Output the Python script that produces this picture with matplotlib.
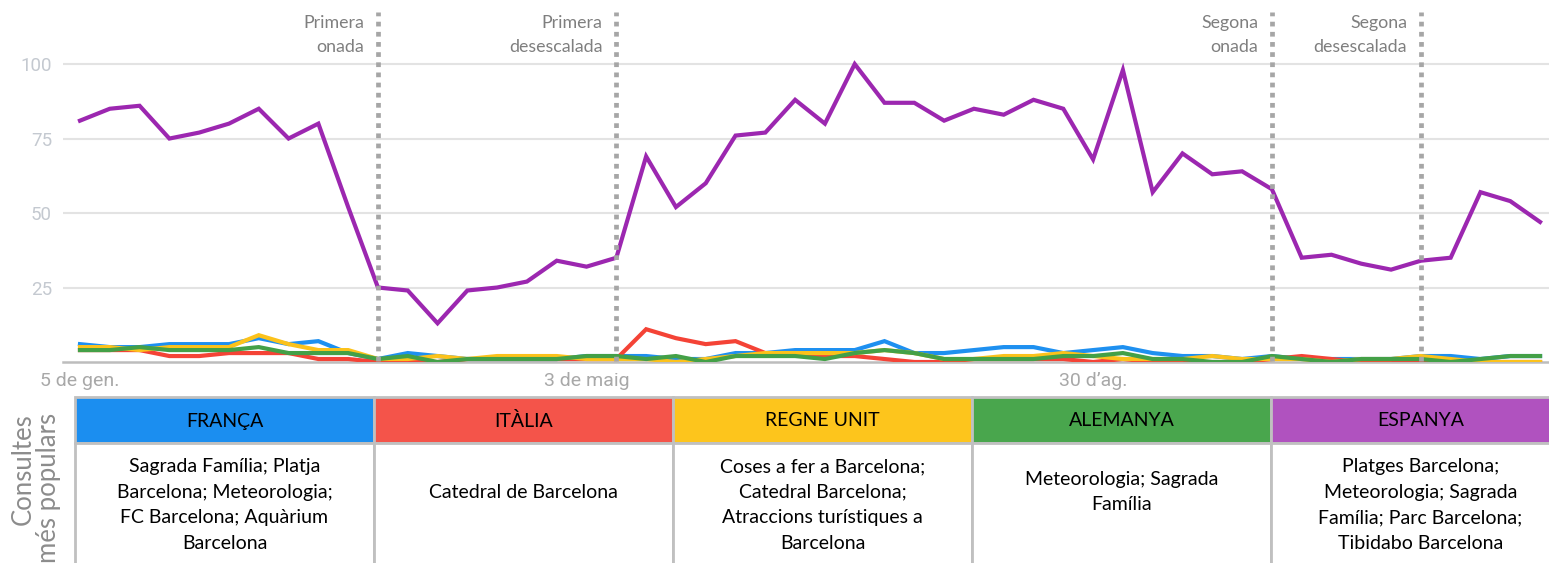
import matplotlib
matplotlib.use('Agg')
import matplotlib.pyplot as plt
from matplotlib.patches import Rectangle
import numpy as np

# weekly search interest, 5 Jan 2020 -> 13 Dec 2020
weeks = np.arange(50)
tick_weeks = [0, 17, 34]
tick_labels = ['5 de gen.', '3 de maig', '30 d\u2019ag.']

franca = [6, 5, 5, 6, 6, 6, 8, 6, 7, 3, 1, 3, 2, 1, 1, 1, 1, 2, 2, 2,
          1, 1, 3, 3, 4, 4, 4, 7, 3, 3, 4, 5, 5, 3, 4, 5, 3, 2, 2, 1,
          2, 1, 1, 1, 1, 2, 2, 1, 2, 2]
italia = [4, 4, 4, 2, 2, 3, 3, 3, 1, 1, 0, 0, 0, 1, 1, 1, 1, 1, 1, 11,
          8, 6, 7, 3, 3, 2, 2, 1, 0, 0, 1, 1, 1, 1, 0, 1, 0, 0, 0, 0,
          1, 2, 1, 0, 0, 0, 0, 0, 0, 0]
regne_unit = [5, 5, 4, 5, 5, 5, 9, 6, 4, 4, 1, 1, 2, 1, 2, 2, 2, 1, 1, 1,
              0, 1, 2, 3, 3, 3, 3, 4, 3, 1, 1, 2, 2, 3, 2, 1, 1, 1, 2, 1,
              1, 1, 0, 1, 1, 2, 1, 0, 0, 0]
alemanya = [4, 4, 5, 4, 4, 4, 5, 3, 3, 3, 1, 2, 0, 1, 1, 1, 1, 2, 2, 1,
            2, 0, 2, 2, 2, 1, 3, 4, 3, 1, 1, 1, 1, 2, 2, 3, 1, 1, 0, 0,
            2, 1, 0, 1, 1, 1, 0, 1, 2, 2]
espanya = [81, 85, 86, 75, 77, 80, 85, 75, 80, 52, 25, 24, 13, 24, 25, 27, 34, 32, 35, 69,
           52, 60, 76, 77, 88, 80, 100, 87, 87, 81, 85, 83, 88, 85, 68, 98, 57, 70, 63, 64,
           58, 35, 36, 33, 31, 34, 35, 57, 54, 47]

event_weeks = [10, 18, 40, 45]
event_labels = ['Primera\nonada', 'Primera\ndesescalada', 'Segona\nonada', 'Segona\ndesescalada']

countries = ['FRANÇA', 'ITÀLIA', 'REGNE UNIT', 'ALEMANYA', 'ESPANYA']
queries = ['Sagrada Família; Platja\nBarcelona; Meteorologia;\nFC Barcelona; Aquàrium\nBarcelona',
           'Catedral de Barcelona',
           'Coses a fer a Barcelona;\nCatedral Barcelona;\nAtraccions turístiques a\nBarcelona',
           'Meteorologia; Sagrada\nFamília',
           'Platges Barcelona;\nMeteorologia; Sagrada\nFamília; Parc Barcelona;\nTibidabo Barcelona']

line_colors = ['#1e90f0', '#f44336', '#fcc21b', '#43a047', '#9c27b0']
header_colors = ['#1b8ef0', '#f4544a', '#fdc51c', '#49a64d', '#b052bf']

W, H = 1549, 563
fig = plt.figure(figsize=(W / 100, H / 100), dpi=100)

# chart area
ax = fig.add_axes([63 / W, (H - 362) / H, 1 - 63 / W, 362 / H])
series = [franca, italia, regne_unit, alemanya]
for vals, c in zip(series, line_colors[:4]):
    ax.plot(weeks, vals, color=c, lw=3, solid_joinstyle='miter', zorder=3)
ax.plot(weeks, espanya, color=line_colors[4], lw=3, solid_joinstyle='miter', zorder=4)

ax.set_xlim(-0.57, 49.3)
ax.set_ylim(0, 121.5)
ax.set_yticks([25, 50, 75, 100])
ax.set_yticklabels(['25', '50', '75', '100'], fontfamily='Roboto', fontsize=13.5, color='#c4c9d0')
ax.set_xticks(tick_weeks)
ax.set_xticklabels(tick_labels, fontfamily='Roboto', fontsize=14, color='#a8a8a8')
ax.tick_params(axis='both', length=0)
ax.tick_params(axis='y', pad=8)
ax.tick_params(axis='x', pad=7)
ax.grid(axis='y', color='#e3e3e3', lw=1.5)
ax.set_axisbelow(True)
for s in ['top', 'right', 'left']:
    ax.spines[s].set_visible(False)
ax.spines['bottom'].set_color('#bdbdbd')
ax.spines['bottom'].set_linewidth(1.8)

# event markers
for wk, lab in zip(event_weeks, event_labels):
    ax.vlines(wk, 0.5, 117.5, color='#a6a6a6', lw=3.4, linestyles=(0, (1, 1.15)), zorder=5)
    ax.annotate(lab, xy=(wk, 116.5), xytext=(-10, 0), textcoords='offset points',
                ha='right', va='top', fontfamily='Lato', fontsize=12.8, color='#7f7f7f',
                linespacing=1.65)

# table below the chart
tab = fig.add_axes([0, 0, 1, 1], zorder=-1)
tab.set_xlim(0, W)
tab.set_ylim(H, 0)
tab.axis('off')
col_x0, col_w = 75, 299
head_top, head_h = 397, 46
for i, (name, q, hc) in enumerate(zip(countries, queries, header_colors)):
    x = col_x0 + i * col_w
    tab.add_patch(Rectangle((x, head_top), col_w, head_h, facecolor=hc,
                            edgecolor='#c0c0c0', lw=2))
    tab.add_patch(Rectangle((x, head_top + head_h), col_w, 200, facecolor='white',
                            edgecolor='#c0c0c0', lw=2))
    tab.text(x + col_w / 2, head_top + head_h / 2 + 1, name, ha='center', va='center',
             fontfamily='Lato', fontsize=14, color='black')
    nlines = q.count('\n') + 1
    cy = 492 if nlines <= 2 else 505
    tab.text(x + col_w / 2, cy, q, ha='center', va='center', fontfamily='Lato',
             fontsize=14, color='black', linespacing=1.6)

tab.text(36, 488, 'Consultes\nmés populars', rotation=90, ha='center', va='center',
         multialignment='right', fontfamily='Lato', fontsize=18.5, color='#8c8c8c',
         linespacing=1.05)

fig.savefig('out.png', dpi=100)
